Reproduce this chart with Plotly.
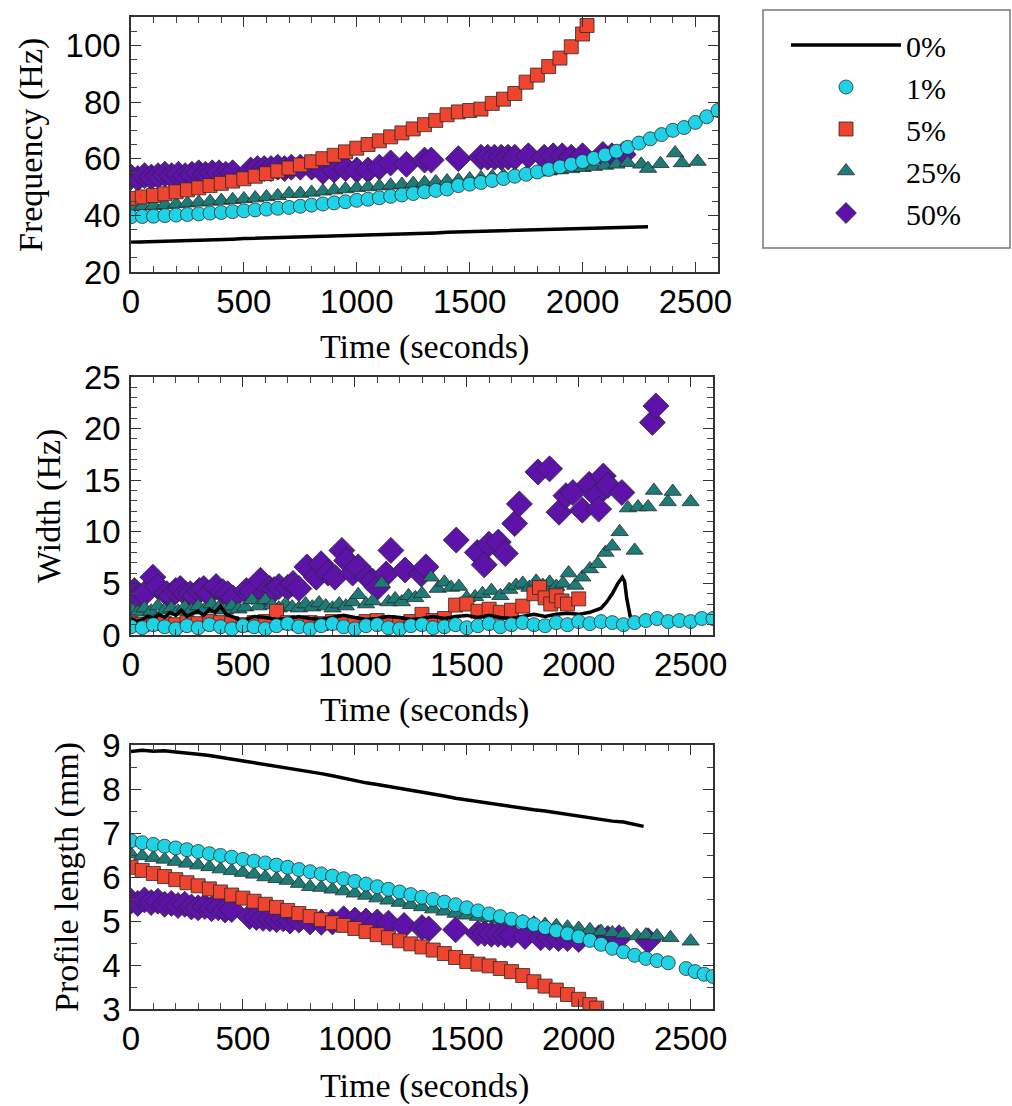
import plotly.graph_objects as go

W, H = 1012, 1106

# ---------------- Frequency (Hz) panel ----------------
F0_T = [0, 50, 100, 150, 200, 250, 300, 350, 400, 450,
        500, 550, 600, 650, 700, 750, 800, 850, 900, 950,
        1000, 1050, 1100, 1150, 1200, 1250, 1300, 1350, 1400, 1450,
        1500, 1550, 1600, 1650, 1700, 1750, 1800, 1850, 1900, 1950,
        2000, 2050, 2100, 2150, 2200, 2250, 2290]
F0_V = [30.5, 30.6, 30.7, 30.8, 30.9, 31.0, 31.2, 31.3, 31.4, 31.6,
        31.8, 31.9, 32.0, 32.1, 32.3, 32.4, 32.5, 32.6, 32.8, 32.9,
        33.0, 33.1, 33.2, 33.4, 33.5, 33.6, 33.7, 33.8, 34.0, 34.1,
        34.2, 34.3, 34.4, 34.5, 34.6, 34.7, 34.8, 34.9, 35.0, 35.1,
        35.3, 35.4, 35.5, 35.6, 35.8, 35.9, 36.0]

F1_T = [0, 50, 100, 150, 200, 250, 300, 350, 400, 450,
        500, 550, 600, 650, 700, 750, 800, 850, 900, 950,
        1000, 1050, 1100, 1150, 1200, 1250, 1300, 1350, 1400, 1450,
        1500, 1550, 1600, 1650, 1700, 1750, 1800, 1850, 1900, 1950,
        2000, 2050, 2100, 2150, 2200, 2250, 2300, 2350, 2400, 2450,
        2500, 2550, 2600]
F1_V = [39.5, 39.6, 39.7, 39.9, 40.1, 40.3, 40.5, 40.8, 41.0, 41.3,
        41.6, 41.9, 42.2, 42.5, 42.8, 43.2, 43.6, 44.0, 44.4, 44.8,
        45.3, 45.7, 46.2, 46.7, 47.2, 47.7, 48.3, 48.8, 49.3, 50.5,
        51.0, 51.6, 52.3, 53.0, 53.8, 54.5, 55.3, 56.2, 57.1, 58.0,
        59.0, 60.1, 61.3, 62.6, 64.0, 65.5, 67.0, 68.5, 70.0, 71.0,
        72.8, 74.8, 77.0]

F5_T = [0, 50, 100, 150, 200, 250, 300, 350, 400, 450,
        500, 550, 600, 650, 700, 750, 800, 850, 900, 950,
        1000, 1050, 1100, 1150, 1200, 1250, 1300, 1350, 1400, 1450,
        1500, 1550, 1600, 1650, 1700, 1750, 1800, 1850, 1900, 1950,
        2000, 2020]
F5_V = [46.0, 46.5, 47.0, 47.6, 48.3, 49.0, 49.7, 50.5, 51.3, 52.1,
        52.9, 53.8, 54.7, 55.7, 56.7, 57.8, 58.9, 60.0, 61.2, 62.4,
        63.7, 65.0, 66.3, 67.7, 69.1, 70.5, 72.0, 73.5, 75.5, 76.5,
        77.0, 77.5, 79.5, 81.0, 83.0, 87.0, 89.5, 92.5, 95.5, 99.5,
        104.0, 107.0]

F25_T = [0, 50, 100, 150, 200, 250, 300, 350, 400, 450,
         500, 550, 600, 650, 700, 750, 800, 850, 900, 950,
         1000, 1050, 1100, 1150, 1200, 1250, 1300, 1350, 1400, 1450,
         1500, 1550, 1600, 1650, 1700, 1750, 1800, 1850, 1900, 1950,
         2000, 2050, 2100, 2150, 2200, 2260, 2290, 2345, 2410, 2440,
         2510]
F25_V = [43.0, 43.2, 43.4, 43.7, 44.0, 44.3, 44.6, 44.9, 45.2, 45.5,
         45.8, 46.1, 46.5, 46.9, 47.6, 47.7, 48.1, 48.5, 48.9, 49.3,
         49.7, 50.0, 50.3, 50.6, 50.9, 51.2, 51.5, 51.8, 52.1, 52.4,
         52.8, 53.2, 53.6, 54.0, 54.4, 54.8, 55.2, 55.6, 56.0, 56.4,
         56.8, 57.2, 57.6, 58.0, 58.6, 58.0, 56.5, 58.2, 62.0, 58.5,
         59.0]

F50_T = [0, 30, 60, 90, 120, 150, 180, 210, 240, 270,
         300, 330, 360, 390, 420, 450, 530, 560, 590, 620,
         650, 680, 710, 750, 800, 850, 900, 950, 1000, 1050,
         1100, 1150, 1220, 1300, 1330, 1450, 1550, 1580, 1610, 1640,
         1670, 1700, 1760, 1830, 1870, 1910, 1950, 2000, 2090, 2130,
         2180]
F50_V = [53.5, 53.0, 54.0, 53.5, 54.0, 54.5, 54.0, 54.5, 54.0, 54.5,
         55.0, 54.5, 55.0, 55.0, 54.5, 55.0, 56.0, 56.5, 56.5, 56.5,
         57.0, 56.5, 57.0, 57.0, 57.0, 55.5, 56.0, 56.5, 56.0, 56.0,
         57.0, 58.5, 58.0, 59.5, 59.5, 60.0, 60.5, 60.5, 60.5, 60.5,
         60.5, 60.5, 61.0, 60.5, 61.0, 61.0, 60.5, 61.0, 61.5, 61.0,
         61.5]

# ---------------- Width (Hz) panel ----------------
W0_T = [0, 25, 50, 75, 100, 125, 150, 175, 200, 225,
        250, 275, 300, 325, 350, 375, 400, 425, 450, 475,
        500, 525, 550, 600, 650, 700, 750, 800, 850, 900,
        950, 1000, 1050, 1100, 1150, 1200, 1250, 1300, 1350, 1400,
        1450, 1500, 1550, 1600, 1650, 1700, 1750, 1800, 1850, 1900,
        1950, 2000, 2050, 2100, 2125, 2150, 2175, 2195, 2205, 2215,
        2230, 2250, 2290]
W0_V = [1.6, 1.3, 1.5, 1.8, 1.6, 2.0, 1.7, 2.2, 1.9, 2.4,
        1.8, 2.1, 2.3, 1.9, 2.5, 2.2, 2.8, 2.0, 1.8, 1.6,
        1.2, 1.6, 1.8, 1.7, 1.5, 1.6, 1.8, 1.6, 1.5, 1.7,
        1.9, 1.7, 1.5, 1.6, 1.8, 1.7, 1.5, 1.6, 1.8, 1.6,
        1.8, 1.9, 1.7, 1.9, 1.7, 1.6, 1.8, 2.0, 1.8, 2.0,
        2.1, 2.0, 2.2, 2.6, 3.2, 4.0, 5.0, 5.6, 5.2, 3.5,
        1.8, 1.5, 1.5]

W1_T = F1_T
W1_V = [0.8, 0.7, 1.0, 0.8, 0.6, 0.9, 0.7, 1.0, 0.8, 0.6,
        0.9, 0.8, 0.6, 0.9, 1.1, 0.8, 0.6, 0.9, 1.1, 0.8,
        0.6, 0.9, 1.0, 0.7, 0.6, 0.9, 1.0, 0.7, 0.8, 1.0,
        0.7, 0.9, 1.1, 0.8, 1.0, 1.2, 1.0, 0.9, 1.2, 1.0,
        1.3, 1.1, 1.3, 1.2, 1.0, 1.2, 1.4, 1.6, 1.3, 1.4,
        1.3, 1.6, 1.6]

W5_T = [0, 50, 100, 150, 200, 250, 300, 350, 400, 450,
        500, 550, 600, 650, 700, 750, 800, 850, 900, 950,
        1000, 1050, 1100, 1150, 1200, 1250, 1300, 1350, 1400, 1450,
        1500, 1550, 1600, 1650, 1700, 1750, 1800, 1825, 1850, 1875,
        1900, 1925, 1950, 2000]
W5_V = [1.1, 1.0, 1.2, 1.1, 1.0, 1.2, 1.1, 1.3, 1.2, 1.1,
        1.0, 1.2, 1.3, 2.3, 1.2, 1.1, 1.2, 1.1, 1.3, 1.2,
        1.1, 1.3, 1.4, 1.2, 1.1, 1.3, 2.0, 1.4, 1.6, 2.9,
        3.0, 2.3, 2.5, 2.2, 2.4, 2.8, 4.0, 4.6, 3.6, 3.0,
        3.8, 3.3, 3.0, 3.5]

W25_T = [0, 30, 60, 90, 120, 150, 180, 210, 240, 270,
         300, 330, 360, 390, 420, 450, 480, 510, 540, 570,
         600, 630, 660, 690, 720, 750, 780, 810, 840, 870,
         900, 930, 960, 990, 1015, 1050, 1080, 1120, 1150, 1180,
         1210, 1240, 1270, 1300, 1340, 1370, 1400, 1430, 1465, 1500,
         1537, 1570, 1610, 1650, 1690, 1720, 1750, 1780, 1810, 1840,
         1870, 1900, 1930, 1955, 1985, 2016, 2050, 2085, 2120, 2150,
         2183, 2220, 2250, 2265, 2310, 2336, 2398, 2420, 2500]
W25_V = [2.5, 2.2, 2.6, 2.3, 2.8, 2.4, 2.6, 2.3, 2.7, 2.4,
         2.8, 2.5, 3.0, 2.6, 2.4, 2.8, 2.5, 2.7, 3.4, 2.8,
         3.4, 2.9, 2.6, 3.0, 2.7, 2.6, 3.0, 2.7, 3.1, 2.8,
         2.6, 3.0, 2.8, 3.2, 3.9, 3.0, 3.3, 5.0, 3.2, 3.5,
         3.2, 3.8, 3.6, 4.0, 5.6, 4.5, 5.1, 4.6, 4.7, 3.6,
         3.7, 4.0, 4.3, 3.8, 4.4, 4.8, 5.0, 4.6, 5.2, 4.8,
         5.1, 4.7, 5.0, 6.0, 4.8, 5.6, 6.4, 6.9, 8.0, 8.6,
         10.0, 12.3, 8.2, 12.4, 12.4, 14.0, 12.9, 13.9, 12.9]

W50_T = [15, 35, 60, 98, 119, 160, 180, 200, 220, 244,
         265, 285, 305, 325, 348, 380, 410, 432, 455, 515,
         540, 578, 600, 620, 640, 661, 700, 724, 750, 786,
         828, 849, 880, 911, 942, 963, 990, 1015, 1057, 1080,
         1100, 1140, 1161, 1224, 1297, 1318, 1453, 1547, 1578, 1599,
         1641, 1672, 1714, 1735, 1818, 1870, 1912, 1943, 1974, 2016,
         2047, 2079, 2089, 2110, 2131, 2193, 2329, 2345]
W50_V = [4.3, 3.7, 4.0, 5.6, 4.7, 4.0, 3.8, 4.3, 4.5, 4.0,
         4.0, 3.8, 4.3, 4.5, 4.0, 4.7, 4.2, 4.0, 3.6, 4.3,
         4.2, 5.3, 4.0, 4.5, 4.4, 4.7, 4.6, 5.0, 4.5, 6.6,
         5.6, 6.9, 6.0, 5.6, 8.2, 7.2, 6.0, 6.6, 5.6, 5.2,
         4.6, 5.9, 8.2, 6.3, 5.9, 6.6, 9.2, 8.0, 6.8, 8.8,
         9.0, 7.9, 10.8, 12.7, 15.8, 16.1, 11.9, 13.5, 13.8, 12.1,
         14.6, 13.5, 12.2, 15.4, 14.5, 13.8, 20.6, 22.2]

# ---------------- Profile length (mm) panel ----------------
P0_T = F0_T
P0_V = [8.85, 8.88, 8.86, 8.87, 8.84, 8.82, 8.79, 8.76, 8.72, 8.69,
        8.65, 8.61, 8.57, 8.52, 8.48, 8.44, 8.39, 8.35, 8.30, 8.24,
        8.18, 8.14, 8.10, 8.06, 8.01, 7.97, 7.93, 7.88, 7.84, 7.79,
        7.75, 7.72, 7.68, 7.64, 7.60, 7.56, 7.53, 7.50, 7.46, 7.42,
        7.39, 7.35, 7.31, 7.27, 7.25, 7.20, 7.15]

P1_T = [0, 50, 100, 150, 200, 250, 300, 350, 400, 450,
        500, 550, 600, 650, 700, 750, 800, 850, 900, 950,
        1000, 1050, 1100, 1150, 1200, 1250, 1300, 1350, 1400, 1450,
        1500, 1550, 1600, 1650, 1700, 1750, 1800, 1850, 1900, 1950,
        2000, 2050, 2100, 2150, 2200, 2250, 2300, 2350, 2400, 2480,
        2520, 2560, 2600]
P1_V = [6.82, 6.78, 6.74, 6.70, 6.66, 6.62, 6.58, 6.53, 6.49, 6.45,
        6.40, 6.36, 6.32, 6.27, 6.22, 6.17, 6.12, 6.07, 6.02, 5.96,
        5.90, 5.84, 5.78, 5.72, 5.66, 5.60, 5.54, 5.49, 5.43, 5.37,
        5.30, 5.23, 5.16, 5.10, 5.04, 4.98, 4.92, 4.85, 4.78, 4.71,
        4.64, 4.56, 4.47, 4.38, 4.30, 4.22, 4.15, 4.10, 4.05, 3.92,
        3.85, 3.79, 3.74]

P5_T = [0, 50, 100, 150, 200, 250, 300, 350, 400, 450,
        500, 550, 600, 650, 700, 750, 800, 850, 900, 950,
        1000, 1050, 1100, 1150, 1200, 1250, 1300, 1350, 1400, 1450,
        1500, 1550, 1600, 1650, 1700, 1750, 1800, 1850, 1900, 1950,
        2000, 2050, 2080]
P5_V = [6.22, 6.15, 6.08, 6.01, 5.94, 5.87, 5.80, 5.73, 5.66, 5.59,
        5.52, 5.45, 5.38, 5.31, 5.24, 5.17, 5.10, 5.03, 4.96, 4.90,
        4.83, 4.76, 4.69, 4.62, 4.55, 4.48, 4.41, 4.34, 4.26, 4.17,
        4.08, 4.02, 3.98, 3.92, 3.85, 3.76, 3.62, 3.52, 3.43, 3.33,
        3.22, 3.10, 3.02]

P25_T = [0, 50, 100, 150, 200, 250, 300, 350, 400, 450,
         500, 550, 600, 650, 700, 750, 800, 850, 900, 950,
         1000, 1050, 1100, 1150, 1200, 1250, 1300, 1350, 1400, 1450,
         1500, 1550, 1600, 1650, 1700, 1750, 1800, 1850, 1900, 1950,
         2000, 2050, 2100, 2150, 2200, 2260, 2300, 2350, 2410, 2500]
P25_V = [6.52, 6.48, 6.44, 6.40, 6.35, 6.31, 6.27, 6.23, 6.18, 6.14,
         6.10, 6.06, 6.00, 5.96, 5.92, 5.85, 5.78, 5.76, 5.72, 5.68,
         5.63, 5.58, 5.52, 5.47, 5.42, 5.37, 5.32, 5.27, 5.22, 5.17,
         5.13, 5.10, 5.07, 5.04, 5.01, 4.98, 4.95, 4.92, 4.89, 4.86,
         4.83, 4.80, 4.76, 4.73, 4.70, 4.66, 4.68, 4.66, 4.62, 4.54]

P50_T = [0, 30, 60, 90, 120, 150, 180, 210, 240, 270,
         300, 330, 360, 390, 420, 450, 530, 560, 590, 620,
         650, 680, 710, 750, 800, 850, 900, 950, 1000, 1050,
         1100, 1150, 1220, 1300, 1330, 1450, 1550, 1580, 1610, 1640,
         1670, 1700, 1760, 1830, 1870, 1910, 1950, 2000, 2090, 2130,
         2180, 2310]
P50_V = [5.45, 5.40, 5.48, 5.42, 5.45, 5.38, 5.40, 5.35, 5.38, 5.32,
         5.30, 5.33, 5.28, 5.30, 5.25, 5.26, 5.10, 5.08, 5.06, 5.05,
         5.03, 5.05, 5.00, 5.02, 4.98, 4.97, 4.98, 5.05, 5.02, 5.00,
         4.98, 4.95, 4.90, 4.85, 4.82, 4.80, 4.72, 4.72, 4.70, 4.70,
         4.68, 4.68, 4.65, 4.62, 4.62, 4.60, 4.60, 4.58, 4.62, 4.60,
         4.62, 4.55]

SERIES_NAMES = ["0%", "1%", "5%", "25%", "50%"]
X_TICKS = [0, 500, 1000, 1500, 2000, 2500]

for a, b in [(F0_T, F0_V), (F1_T, F1_V), (F5_T, F5_V), (F25_T, F25_V), (F50_T, F50_V),
             (W0_T, W0_V), (W1_T, W1_V), (W5_T, W5_V), (W25_T, W25_V), (W50_T, W50_V),
             (P0_T, P0_V), (P1_T, P1_V), (P5_T, P5_V), (P25_T, P25_V), (P50_T, P50_V)]:
    assert len(a) == len(b), (len(a), len(b))

# ---------------- styling ----------------
OUT = dict(color="#2a2a2a", width=0.8)
STY = {
    "0%": dict(mode="lines", line=dict(color="black", width=3.5)),
    "1%": dict(mode="markers", marker=dict(symbol="circle", size=14, color="#1FD3E6", line=OUT)),
    "5%": dict(mode="markers", marker=dict(symbol="square", size=14, color="#EE4430", line=OUT)),
    "25%": dict(mode="markers", marker=dict(symbol="triangle-up", size=15, color="#1E7C78", line=OUT)),
    "50%": dict(mode="markers", marker=dict(symbol="diamond", size=20, color="#5D12A9", line=OUT)),
}
RANK = {"0%": 1, "1%": 2, "5%": 3, "25%": 4, "50%": 5}
DRAW_ORDER = ["50%", "25%", "5%", "0%", "1%"]

panels = [
    ("x", "y", {"0%": (F0_T, F0_V), "1%": (F1_T, F1_V), "5%": (F5_T, F5_V),
                "25%": (F25_T, F25_V), "50%": (F50_T, F50_V)}),
    ("x2", "y2", {"0%": (W0_T, W0_V), "1%": (W1_T, W1_V), "5%": (W5_T, W5_V),
                  "25%": (W25_T, W25_V), "50%": (W50_T, W50_V)}),
    ("x3", "y3", {"0%": (P0_T, P0_V), "1%": (P1_T, P1_V), "5%": (P5_T, P5_V),
                  "25%": (P25_T, P25_V), "50%": (P50_T, P50_V)}),
]

fig = go.Figure()
for pi, (xa, ya, data) in enumerate(panels):
    for name in DRAW_ORDER:
        t, v = data[name]
        fig.add_trace(go.Scatter(x=t, y=v, name=name, xaxis=xa, yaxis=ya,
                                 legendgroup=name, legendrank=RANK[name],
                                 showlegend=(pi == 0), **STY[name]))


def px_x(p):
    return p / W


def px_y(p):
    return 1 - p / H


TICKFONT = dict(family="Liberation Sans, Arial, sans-serif", size=33, color="black")
TITLEFONT = dict(family="Liberation Serif, Times New Roman, serif", size=34, color="black")


def xaxis(domain, anchor):
    return dict(domain=domain, anchor=anchor, range=[0, 2600], tickmode="array",
                tickvals=X_TICKS, ticktext=[str(v) for v in X_TICKS],
                ticks="inside", ticklen=10, tickwidth=1.3, tickcolor="#333",
                mirror="allticks", showline=True, linecolor="#333", linewidth=1.6,
                showgrid=False, zeroline=False, automargin=False,
                minor=dict(ticks="inside", ticklen=6, dtick=100, tick0=0,
                           tickcolor="#444", tickwidth=1, showgrid=False),
                tickfont=TICKFONT, ticklabelstandoff=0)


def yaxis(domain, anchor, rng, dtick, mdtick):
    return dict(domain=domain, anchor=anchor, range=rng, dtick=dtick, tick0=rng[0],
                ticks="inside", ticklen=10, tickwidth=1.3, tickcolor="#333",
                mirror="allticks", showline=True, linecolor="#333", linewidth=1.6,
                showgrid=False, zeroline=False, automargin=False,
                minor=dict(ticks="inside", ticklen=6, dtick=mdtick, tick0=rng[0],
                           tickcolor="#444", tickwidth=1, showgrid=False),
                tickfont=TICKFONT, ticklabelstandoff=2)


top_x = [px_x(131), px_x(718)]
oth_x = [px_x(131), px_x(713)]
top_y = [px_y(272), px_y(17)]
mid_y = [px_y(635), px_y(377)]
bot_y = [px_y(1009), px_y(745)]

fig.update_layout(
    width=W, height=H,
    margin=dict(l=0, r=0, t=0, b=0),
    paper_bgcolor="white", plot_bgcolor="white",
    xaxis=xaxis(top_x, "y"),
    yaxis=yaxis(top_y, "x", [20, 110], 20, 5),
    xaxis2=xaxis(oth_x, "y2"),
    yaxis2=yaxis(mid_y, "x2", [0, 25], 5, 1),
    xaxis3=xaxis(oth_x, "y3"),
    yaxis3=yaxis(bot_y, "x3", [3, 9], 1, 0.5),
    showlegend=True,
    legend=dict(x=px_x(786), y=px_y(19), xanchor="left", yanchor="top",
                borderwidth=0, bgcolor="rgba(0,0,0,0)",
                font=dict(family="Liberation Serif, Times New Roman, serif", size=30, color="black"),
                itemwidth=110, tracegroupgap=0, traceorder="normal"),
)

# legend frame
fig.add_shape(type="rect", xref="paper", yref="paper",
              x0=px_x(763), x1=px_x(1010), y0=px_y(248), y1=px_y(10),
              line=dict(color="#777", width=1.5), fillcolor="rgba(0,0,0,0)", layer="above")

annos = [
    dict(text="Time (seconds)", x=px_x(424), y=px_y(347)),
    dict(text="Time (seconds)", x=px_x(424), y=px_y(710)),
    dict(text="Time (seconds)", x=px_x(424), y=px_y(1086)),
    dict(text="Frequency (Hz)", x=px_x(31), y=px_y(145), textangle=-90),
    dict(text="Width (Hz)", x=px_x(49), y=px_y(506), textangle=-90),
    dict(text="Profile length (mm)", x=px_x(67), y=px_y(877), textangle=-90),
]
for a in annos:
    fig.add_annotation(xref="paper", yref="paper", showarrow=False,
                       xanchor="center", yanchor="middle", font=TITLEFONT, **a)

fig.write_html("out.html")
